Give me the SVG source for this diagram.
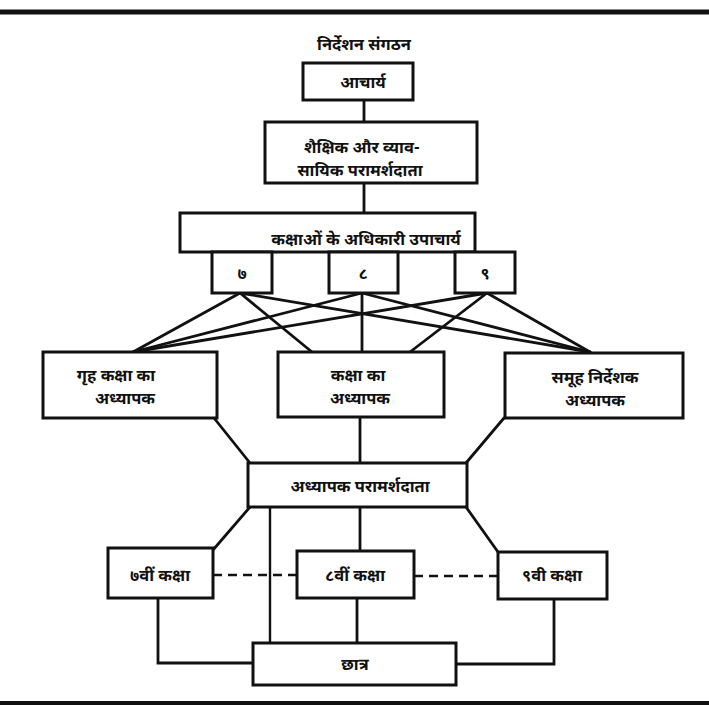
<svg xmlns="http://www.w3.org/2000/svg" width="709" height="706" viewBox="0 0 709 706">
  <style>
    .box { fill: #ffffff; stroke: #111; stroke-width: 3; }
    .ln { fill: none; stroke: #111; stroke-width: 2.8; stroke-linecap: round; }
    .thin { fill: none; stroke: #111; stroke-width: 2.4; }
    .dash { fill: none; stroke: #111; stroke-width: 2.6; stroke-dasharray: 9 6; }
    .rule { stroke: #111; }
    text { font-family: "Noto Sans Devanagari", "Noto Sans", "Liberation Sans", sans-serif; font-size: 16.5px; font-weight: bold; fill: #111; text-anchor: middle; }
  </style>
  <rect width="709" height="706" fill="#ffffff"/>

  <!-- page rules -->
  <line class="rule" x1="0" y1="12" x2="709" y2="12" stroke-width="5"/>
  <line class="rule" x1="0" y1="703" x2="709" y2="703" stroke-width="4"/>

  <text x="364" y="50">निर्देशन संगठन</text>

  <!-- connectors -->
  <g id="connectors">
    <path class="ln" d="M364 100 V122 M364 183 V213"/>
    <!-- from 7, 8, 9 to the three teacher boxes -->
    <path class="ln" d="M240 293 L133 352 M240 293 L312 352 M240 293 L590 352"/>
    <path class="ln" d="M362 293 L133 352 M362 293 L362 352 M362 293 L590 352"/>
    <path class="ln" d="M487 293 L133 352 M487 293 L410 352 M487 293 L590 352"/>
    <!-- teachers to teacher counsellor -->
    <path class="ln" d="M214 418 L250 463 M360 417 V463 M504 418 L466 463"/>
    <!-- counsellor to classes -->
    <path class="ln" d="M250 507 L213 550 M360 507 V551 M466 507 L498 552"/>
    <path class="thin" d="M270 508 V643"/>
    <path class="dash" d="M213 575 H297 M414 576 H498"/>
    <!-- classes to students -->
    <path class="ln" d="M357 598 V643"/>
    <path class="ln" d="M158 598 V663 H253"/>
    <path class="ln" d="M554 599 V664 H456"/>
  </g>

  <g id="principal">
    <rect class="box" x="303" y="63" width="110" height="37"/>
    <text x="363" y="88">आचार्य</text>
  </g>

  <g id="career-counsellor">
    <rect class="box" x="265" y="122" width="212" height="61"/>
    <text x="362" y="153">शैक्षिक और व्याव-</text>
    <text x="360" y="176">सायिक परामर्शदाता</text>
  </g>

  <g id="vice-principals">
    <rect class="box" x="180" y="213" width="295" height="39"/>
    <text x="366" y="245">कक्षाओं के अधिकारी उपाचार्य</text>
  </g>

  <g id="class-7">
    <rect class="box" x="212" y="252" width="60" height="41"/>
    <text x="242" y="279">७</text>
  </g>
  <g id="class-8">
    <rect class="box" x="329" y="252" width="69" height="41"/>
    <text x="363" y="279">८</text>
  </g>
  <g id="class-9">
    <rect class="box" x="455" y="252" width="60" height="41"/>
    <text x="485" y="279">९</text>
  </g>

  <g id="home-room-teacher">
    <rect class="box" x="43" y="352" width="174" height="66"/>
    <text x="116" y="381">गृह कक्षा का</text>
    <text x="125" y="404">अध्यापक</text>
  </g>

  <g id="class-teacher">
    <rect class="box" x="278" y="352" width="166" height="65"/>
    <text x="358" y="381">कक्षा का</text>
    <text x="360" y="404">अध्यापक</text>
  </g>

  <g id="group-guide-teacher">
    <rect class="box" x="505" y="353" width="178" height="65"/>
    <text x="595" y="383">समूह निर्देशक</text>
    <text x="595" y="406">अध्यापक</text>
  </g>

  <g id="teacher-counsellor">
    <rect class="box" x="248" y="463" width="219" height="44"/>
    <text x="360" y="492">अध्यापक परामर्शदाता</text>
  </g>

  <g id="grade-7">
    <rect class="box" x="108" y="548" width="105" height="50"/>
    <text x="160" y="581">७वीं कक्षा</text>
  </g>
  <g id="grade-8">
    <rect class="box" x="297" y="551" width="117" height="47"/>
    <text x="355" y="581">८वीं कक्षा</text>
  </g>
  <g id="grade-9">
    <rect class="box" x="498" y="552" width="109" height="47"/>
    <text x="552" y="581">९वी कक्षा</text>
  </g>

  <g id="students">
    <rect class="box" x="253" y="643" width="203" height="42"/>
    <text x="355" y="670">छात्र</text>
  </g>
</svg>
